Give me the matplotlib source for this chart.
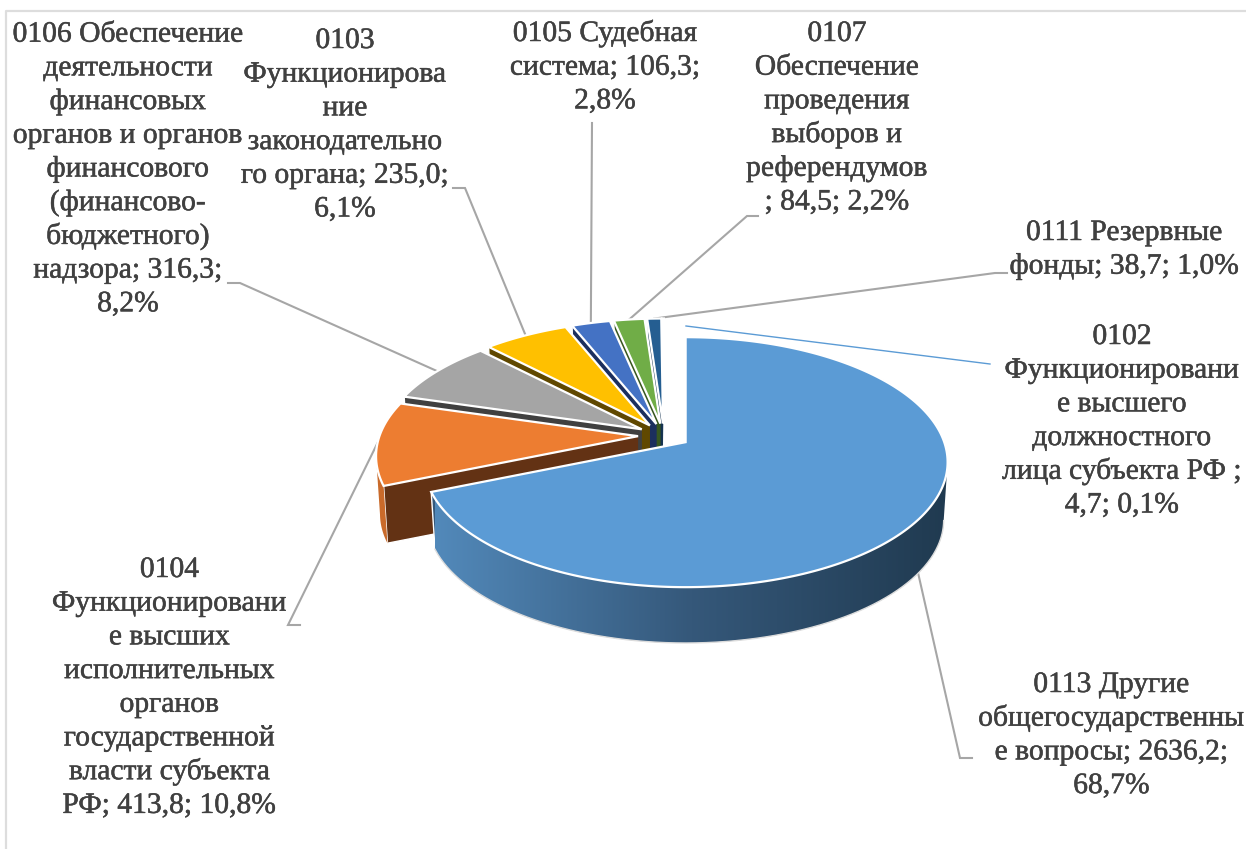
"""Exploded 3D-style pie of budget section spending, drawn on a pixel-sized axes."""
import numpy as np
import matplotlib
matplotlib.use("Agg")
import matplotlib.pyplot as plt
import matplotlib.patheffects as pe
from matplotlib.colors import LinearSegmentedColormap
from matplotlib.patches import Polygon

plt.rcParams["font.family"] = ["Liberation Serif", "DejaVu Serif"]

# clockwise from 12 o'clock
codes = ["0113", "0104", "0106", "0103", "0105", "0107", "0111", "0102"]
values = [2636.2, 413.8, 316.3, 235.0, 106.3, 84.5, 38.7, 4.7]
top_colors = ["#5B9BD5", "#ED7D31", "#A5A5A5", "#FFC000", "#4472C4", "#70AD47", "#255E91", "#5B9BD5"]
cut_colors = ["#35587A", "#633214", "#404040", "#604800", "#1C2F5E", "#38571F", "#14324F", "#35587A"]
rim_colors = [None, "#C96A2A", "#8C8C8C", "#D9A300", "#3A61A7", "#5F933C", "#1F507C", "#5B9BD5"]
side_gradient = ["#5289BA", "#35587A", "#203A50"]

labels = {
    "0113": ["0113 Другие", "общегосударственны", "е вопросы; 2636,2;", "68,7%"],
    "0104": ["0104", "Функционировани", "е высших", "исполнительных", "органов",
             "государственной", "власти субъекта", "РФ; 413,8; 10,8%"],
    "0106": ["0106 Обеспечение", "деятельности", "финансовых", "органов и органов",
             "финансового", "(финансово-", "бюджетного)", "надзора; 316,3;", "8,2%"],
    "0103": ["0103", "Функционирова", "ние", "законодательно", "го органа; 235,0;", "6,1%"],
    "0105": ["0105 Судебная", "система; 106,3;", "2,8%"],
    "0107": ["0107", "Обеспечение", "проведения", "выборов и", "референдумов", "; 84,5; 2,2%"],
    "0111": ["0111 Резервные", "фонды; 38,7; 1,0%"],
    "0102": ["0102", "Функционировани", "е высшего", "должностного", "лица субъекта РФ ;", "4,7; 0,1%"],
}
# centre x, baseline y of first line
label_pos = {
    "0113": (1111.5, 692), "0104": (169.5, 577), "0106": (128, 41.7), "0103": (345, 48),
    "0105": (605, 41), "0107": (837, 41), "0111": (1124.5, 240), "0102": (1122, 344),
}
line_step = 33.7

# leader elbows, text side first
leader_bends = {
    "0113": [(972, 758), (960, 758)], "0104": [(300, 625), (288, 625)],
    "0106": [(228, 283), (240, 283)], "0103": [(453, 188), (465, 188)],
    "0105": [(592, 123)], "0107": [(758, 216), (747, 216)],
    "0111": [(1007, 273), (995, 273)], "0102": [(990, 364)],
}

# projection of the disc
A, B, K = 258.6, 121.8, 0.16
center_x, center_y = 664.0, 435.5
explode_x, explode_y = 26.0, 12.0
depth, shrink = 58.0, 0.985


def disc(theta):
    u, v = np.sin(theta), np.cos(theta)
    w = 1 + K * v
    return A * u / w, -B * v / w


fig = plt.figure(figsize=(12.46, 8.49), dpi=100)
ax = fig.add_axes([0, 0, 1, 1])

# faint frame of the pasted picture
ax.plot([1246, 5.5, 5.5], [10.5, 10.5, 849], color="#DDDDDD", lw=1.6, zorder=1)

fractions = np.array(values) / sum(values)
edges = np.concatenate([[0], np.cumsum(fractions)]) * 2 * np.pi
mids = (edges[:-1] + edges[1:]) / 2

side_cmap = LinearSegmentedColormap.from_list("side", side_gradient)
anchors = {}
z = 5
for i in reversed(range(len(values))):
    t0, t1 = edges[i], edges[i + 1]
    ax0 = center_x + explode_x * np.sin(mids[i])
    ay0 = center_y - explode_y * np.cos(mids[i])
    ts = np.linspace(t0, t1, max(int((t1 - t0) * 120), 8))
    dx, dy = disc(ts)
    top_x, top_y = ax0 + dx, ay0 + dy
    low_x, low_y = ax0 + shrink * dx, ay0 + shrink * dy + depth

    # cut faces
    for k in (-1, 0):
        ax.fill([ax0, top_x[k], low_x[k], ax0], [ay0, top_y[k], low_y[k], ay0 + depth],
                color=cut_colors[i], lw=0, zorder=z)
        ax.plot([top_x[k], low_x[k], ax0], [top_y[k], low_y[k], ay0 + depth],
                color="white", lw=1.0, zorder=z)
    # outer wall, only the part that faces the viewer
    front = np.cos(ts) < -K
    if front.sum() > 1:
        wall_x = np.r_[top_x[front], low_x[front][::-1]]
        wall_y = np.r_[top_y[front], low_y[front][::-1]]
        if rim_colors[i] is None:
            wall = Polygon(np.c_[wall_x, wall_y], closed=True, fc="none", ec="none",
                           transform=ax.transData)
            ax.add_patch(wall)
            img = ax.imshow(np.linspace(0, 1, 256)[None, :], cmap=side_cmap, aspect="auto",
                            extent=(435, 948, 660, 440), zorder=z)
            img.set_clip_path(wall)
            ax.plot(low_x[front], low_y[front], color="#DCDCDC", lw=1.0, zorder=z)
        else:
            ax.fill(wall_x, wall_y, color=rim_colors[i], lw=0, zorder=z)
    # top face
    ax.fill(np.r_[ax0, top_x], np.r_[ay0, top_y], facecolor=top_colors[i],
            edgecolor="white", lw=1.6, joinstyle="miter", zorder=z + 1)
    z += 2

    mx, my = disc(mids[i])
    if codes[i] == "0113":
        anchors[codes[i]] = (ax0 + shrink * mx, ay0 + shrink * my + depth)
    else:
        anchors[codes[i]] = (ax0 + mx, ay0 + my)

# the smallest slice's leader stops short of the main slice
anchors["0102"] = (686, 326)

for code, bends in leader_bends.items():
    xs = [p[0] for p in bends] + [anchors[code][0]]
    ys = [p[1] for p in bends] + [anchors[code][1]]
    blue = code == "0102"
    ax.plot(xs, ys, color="#5B9BD5" if blue else "#A6A6A6", lw=1.0 if blue else 1.5,
            solid_joinstyle="miter", zorder=2)

thicker = [pe.withStroke(linewidth=0.35, foreground="#404040")]
for code, lines in labels.items():
    x, y = label_pos[code]
    for n, line in enumerate(lines):
        ax.text(x, y + n * line_step, line, ha="center", va="baseline",
                fontsize=21.3, color="#404040", zorder=40, path_effects=thicker)

ax.set_xlim(0, 1246)
ax.set_ylim(849, 0)
ax.axis("off")
fig.savefig("out.png", dpi=100)
